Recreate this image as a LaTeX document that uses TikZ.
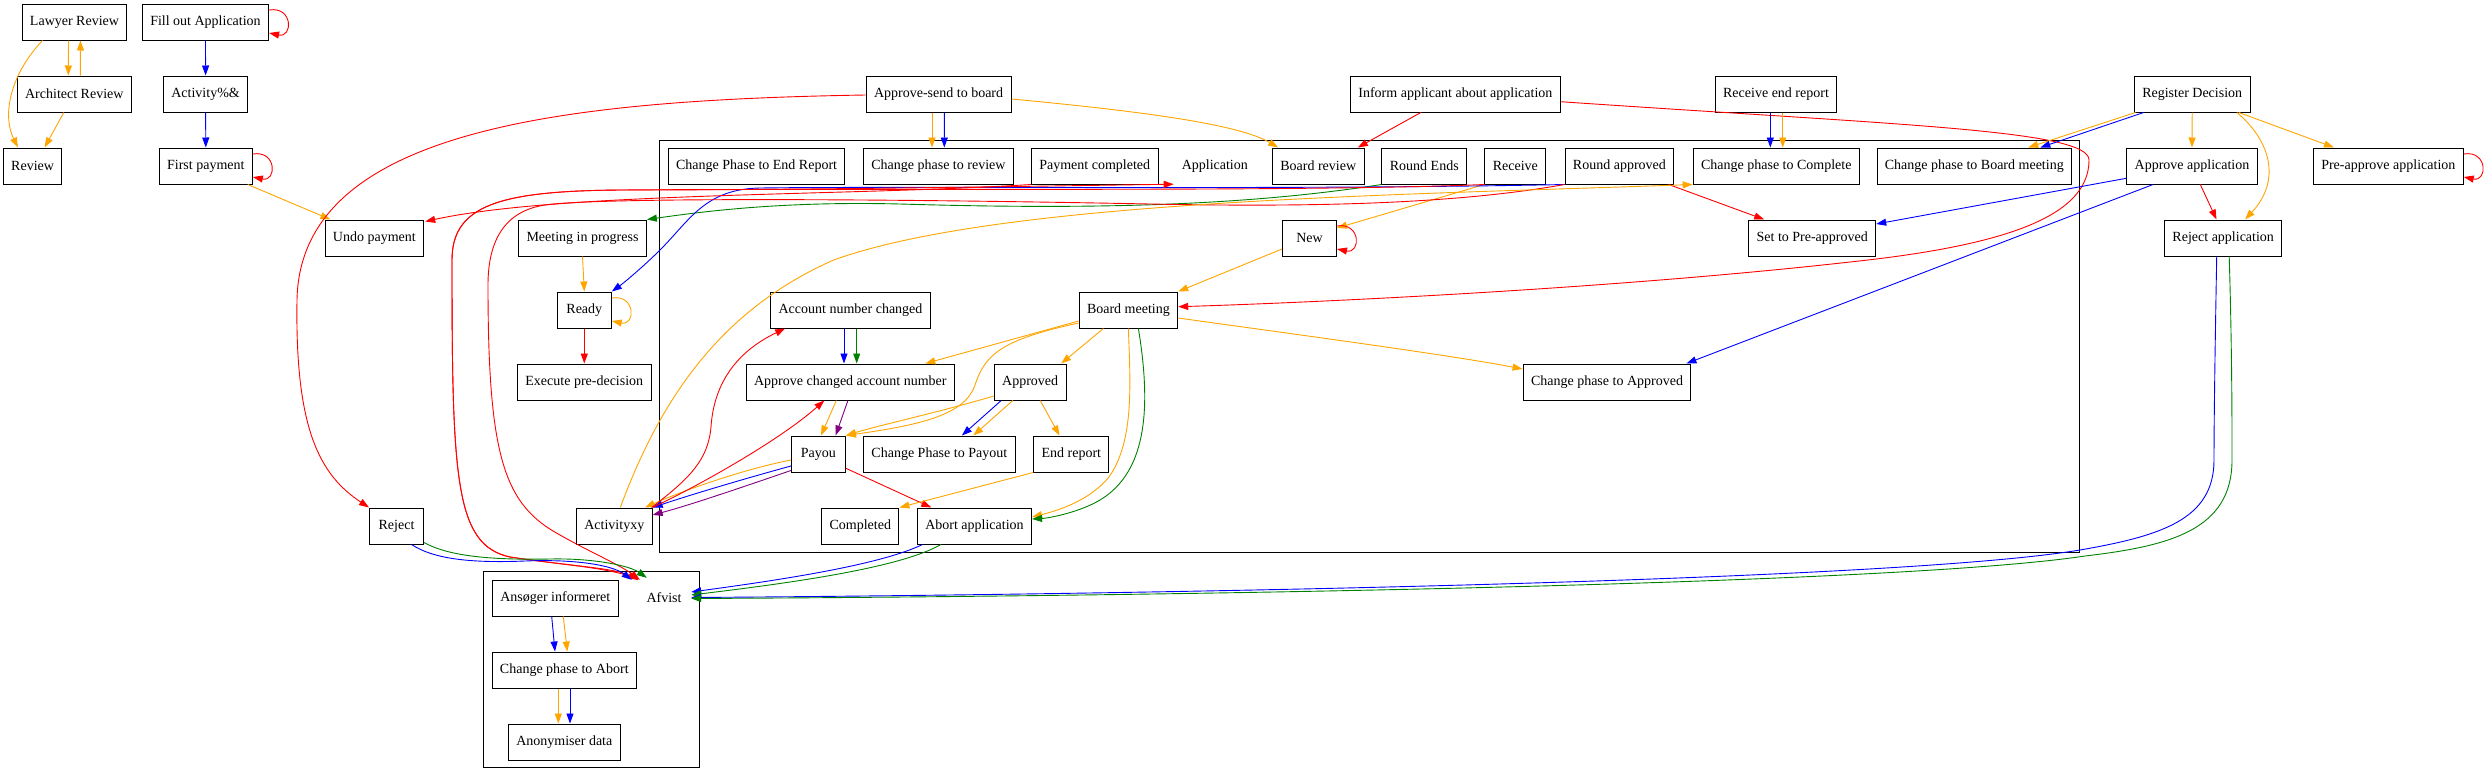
\documentclass[tikz,border=0pt]{standalone}
\usepackage{fontspec}
\setmainfont{Liberation Serif}
\usetikzlibrary{arrows.meta,calc}
\definecolor{gvorange}{HTML}{FFA500}
\definecolor{gvgreen}{HTML}{008000}
\definecolor{gvpurple}{HTML}{800080}
\begin{document}
\begin{tikzpicture}[x=1pt,y=-1pt,
  box/.style={draw=black, line width=1pt, minimum height=36pt, minimum width=54pt, inner xsep=7.9pt, inner ysep=0pt, font=\fontsize{14pt}{16pt}\selectfont},
  plainnode/.style={minimum height=36pt, minimum width=54pt, inner xsep=7.9pt, inner ysep=0pt, font=\fontsize{14pt}{16pt}\selectfont},
  clusterbox/.style={draw=black, line width=1pt, inner sep=0pt},
  conn/.style={line width=0.9pt, -{Triangle[length=10pt,width=7pt]}},
  eo/.style={conn, gvorange},
  eb/.style={conn, blue},
  er/.style={conn, red},
  eg/.style={conn, gvgreen},
  ep/.style={conn, gvpurple}]
\useasboundingbox (0,0) rectangle (2485,780);
% clusters
\node[clusterbox, minimum width=1420pt, minimum height=412pt] (clapp) at (1369.5,346) {};
\node[clusterbox, minimum width=216pt, minimum height=196pt] (clafvist) at (591.3,669.7) {};
% rank 0
\node[box] (lawyer) at (74.5,22) {Lawyer Review};
\node[box] (fill) at (205.5,22) {Fill out Application};
% rank 1
\node[box] (architect) at (74.3,94) {Architect Review};
\node[box] (activity) at (205.6,94) {Activity\%\&};
\node[box] (approvesend) at (938.6,94) {Approve-send to board};
\node[box] (inform) at (1455.4,94) {Inform applicant about application};
\node[box] (receiveend) at (1776,94) {Receive end report};
\node[box] (register) at (2192.2,94) {Register Decision};
% rank 2
\node[box] (review) at (32.6,166) {Review};
\node[box] (firstpay) at (205.8,166) {First payment};
\node[box] (cpend) at (756.6,166) {Change Phase to End Report};
\node[box] (cpreview) at (938.4,166) {Change phase to review};
\node[box] (paycomp) at (1094.7,166) {Payment completed};
\node[plainnode] (applabel) at (1214.8,166) {Application};
\node[box] (boardreview) at (1318.2,166) {Board review};
\node[box] (roundends) at (1424.3,166) {Round Ends};
\node[box] (receive) at (1515.3,166) {Receive};
\node[box] (roundappr) at (1619.4,166) {Round approved};
\node[box] (cpcomplete) at (1776.3,166) {Change phase to Complete};
\node[box] (cpboard) at (1974.3,166) {Change phase to Board meeting};
\node[box] (approveapp) at (2192,166) {Approve application};
\node[box] (preapprove) at (2388.3,166) {Pre-approve application};
% rank 3
\node[box] (undopay) at (374.4,238) {Undo payment};
\node[box] (meeting) at (582.5,238) {Meeting in progress};
\node[box] (new) at (1309.5,238) {New};
\node[box] (setpre) at (1812.2,238) {Set to Pre-approved};
\node[box] (rejectapp) at (2223.2,238) {Reject application};
% rank 4
\node[box] (ready) at (584.3,310) {Ready};
\node[box] (accchanged) at (850.5,310) {Account number changed};
\node[box] (boardmeeting) at (1128.4,310) {Board meeting};
% rank 5
\node[box] (execute) at (584.3,382) {Execute pre-decision};
\node[box] (approvechanged) at (850.3,382) {Approve changed account number};
\node[box] (approved) at (1030.2,382) {Approved};
\node[box] (cpapproved) at (1607,382) {Change phase to Approved};
% rank 6
\node[box] (payou) at (818.4,454) {Payou};
\node[box] (cppayout) at (939.3,454) {Change Phase to Payout};
\node[box] (endreport) at (1071.3,454) {End report};
% rank 7
\node[box] (reject) at (396.5,526) {Reject};
\node[box] (activityxy) at (614.3,526) {Activityxy};
\node[box] (completed) at (860.3,526) {Completed};
\node[box] (abort) at (974.5,526) {Abort application};
% rank 8-10
\node[box] (ansoger) at (555.3,598) {Ansøger informeret};
\node[plainnode] (afvist) at (664,598) {Afvist};
\node[box] (cpabort) at (564.3,670) {Change phase to Abort};
\node[box] (anonym) at (564.3,742) {Anonymiser data};

% ---- top left
\draw[eo] ($(lawyer.south)+(-6,0)$) -- ($(architect.north)+(-6,0)$);
\draw[eo] ($(architect.north)+(6,0)$) -- ($(lawyer.south)+(6,0)$);
\draw[eo] ($(lawyer.south)+(-32,0)$) .. controls (10,75) and (2,115) .. ($(review.north)+(-14.7,0)$);
\draw[eo] ($(architect.south)+(-10.5,0)$) -- ($(review.north)+(12,0)$);
\draw[eb] (fill.south) -- (activity.north);
\draw[eb] (activity.south) -- (firstpay.north);
\draw[er] ($(fill.east)+(0,-12)$) .. controls ($(fill.east)+(24,-16)$) and ($(fill.east)+(24,16)$) .. ($(fill.east)+(0,11)$);
\draw[er] ($(firstpay.east)+(0,-12)$) .. controls ($(firstpay.east)+(24,-16)$) and ($(firstpay.east)+(24,16)$) .. ($(firstpay.east)+(0,11)$);
\draw[eo] ($(firstpay.south)+(42,0)$) -- ($(undopay.north)+(-44,0)$);

% ---- approve-send to board
\draw[eo] ($(approvesend.south)+(-6.6,0)$) -- ($(cpreview.north)+(-6.4,0)$);
\draw[eb] ($(approvesend.south)+(5.7,0)$) -- ($(cpreview.north)+(5.9,0)$);
\draw[eo] ($(approvesend.east)+(0,5)$) .. controls (1150,112) and (1240,125) .. ($(boardreview.north)+(-40,0)$);
\draw[er] ($(approvesend.west)+(0,1)$) .. controls (560,100) and (300,130) .. (297,300) .. controls (295,430) and (320,475) .. (reject.north west);

% ---- inform applicant
\draw[er] ($(inform.south)+(-34.6,0)$) -- ($(boardreview.north)+(39.6,0)$);
\draw[er] ($(inform.east)+(0,7.7)$) .. controls (1900,125) and (2089,130) .. (2089,160) .. controls (2089,215) and (2010,245) .. (1850,262) .. controls (1600,290) and (1300,303) .. ($(boardmeeting.east)+(0,-3.3)$);

% ---- receive end report
\draw[eb] ($(receiveend.south)+(-5.7,0)$) -- ($(cpcomplete.north)+(-6,0)$);
\draw[eo] ($(receiveend.south)+(6.7,0)$) -- ($(cpcomplete.north)+(6.4,0)$);

% ---- register decision
\draw[eo] ($(register.south)+(-56.7,0)$) -- ($(cpboard.north)+(53.9,0)$);
\draw[eb] ($(register.south)+(-48.6,0)$) -- ($(cpboard.north)+(66,0)$);
\draw[eo] (register.south) -- (approveapp.north);
\draw[eo] ($(register.south)+(44.6,0)$) .. controls (2270,140) and (2282,180) .. ($(rejectapp.north)+(21.8,0)$);
\draw[eo] ($(register.south)+(46.6,0)$) -- ($(preapprove.north)+(-54.3,0)$);
\draw[er] ($(preapprove.east)+(0,-12)$) .. controls ($(preapprove.east)+(24,-16)$) and ($(preapprove.east)+(24,16)$) .. ($(preapprove.east)+(0,11)$);

% ---- approve application
\draw[er] ($(approveapp.south)+(8.3,0)$) -- ($(rejectapp.north)+(-6.7,0)$);
\draw[eb] ($(approveapp.west)+(0,12.3)$) -- ($(setpre.east)+(0,-14)$);
\draw[eb] ($(approveapp.south)+(-39,0)$) -- ($(cpapproved.north east)+(-5,0)$);

% ---- round approved / receive / round ends
\draw[er] ($(roundappr.south)+(49.3,0)$) -- ($(setpre.north)+(-48,0)$);
\draw[eo] (receive.south west) -- ($(new.east)+(0,-10)$);
\draw[er] ($(new.east)+(0,-12)$) .. controls ($(new.east)+(24,-16)$) and ($(new.east)+(24,16)$) .. ($(new.east)+(0,11)$);
\draw[eo] ($(new.west)+(0,11)$) -- (boardmeeting.north east);
\draw[eg] (roundends.south west) .. controls (1250,205) and (1100,210) .. (900,204) .. controls (780,201) and (700,212) .. (meeting.north east);
\draw[eb] (roundappr.south west) .. controls (1300,190) and (900,186) .. (760,188) .. controls (705,189) and (690,220) .. (660,250) .. controls (645,265) and (625,282) .. (ready.north east);
\draw[er] (receive.south west) .. controls (1300,192) and (900,188) .. (620,190) .. controls (500,191) and (452,205) .. (452,260) .. controls (452,480) and (455,545) .. (510,557) .. controls (570,566) and (615,568) .. ($(afvist.north west)+(1,0)$);
\draw[er] (roundappr.south west) .. controls (1450,205) and (1300,207) .. (1150,204) .. controls (900,199) and (600,197) .. (545,205) .. controls (505,211) and (488,240) .. (488,285) .. controls (488,460) and (505,505) .. (560,535) .. controls (590,552) and (620,565) .. ($(afvist.north west)+(3,0)$);
\draw[er] (paycomp.south west) .. controls (850,196) and (560,192) .. ($(undopay.north east)+(1,2)$);
\draw[er] ($(afvist.north west)+(1,0)$) .. controls (615,568) and (570,566) .. (510,557) .. controls (455,545) and (452,480) .. (452,260) .. controls (452,205) and (500,191) .. (620,190) .. controls (800,190) and (1050,186) .. (applabel.south west);

% ---- board meeting
\draw[eo] ($(boardmeeting.west)+(0,11)$) -- ($(approvechanged.north)+(75,0)$);
\draw[eo] ($(boardmeeting.south)+(-25,0)$) -- ($(approved.north)+(31,0)$);
\draw[eo] ($(boardmeeting.west)+(0,13)$) .. controls (1000,340) and (985,355) .. (975,385) .. controls (965,415) and (920,425) .. (payou.north east);
\draw[eo] (boardmeeting.south) .. controls (1130,380) and (1135,440) .. (1109,477) .. controls (1090,500) and (1060,510) .. ($(abort.east)+(0,-9)$);
\draw[eg] ($(boardmeeting.south)+(10,0)$) .. controls (1150,400) and (1150,470) .. (1100,500) .. controls (1080,512) and (1050,518) .. ($(abort.east)+(0,-7)$);
\draw[eo] ($(boardmeeting.east)+(0,8)$) .. controls (1300,335) and (1450,355) .. ($(cpapproved.west)+(0,-13)$);

% ---- approved
\draw[eo] ($(approved.west)+(0,14)$) .. controls (940,412) and (880,425) .. (payou.north east);
\draw[eb] ($(approved.south)+(-29,0)$) -- ($(cppayout.north)+(22.6,0)$);
\draw[eo] ($(approved.south)+(-17.4,0)$) -- ($(cppayout.north)+(34,0)$);
\draw[eo] ($(approved.south)+(10,0)$) -- ($(endreport.north)+(-11.8,0)$);

% ---- account number
\draw[eb] ($(accchanged.south)+(-6.5,0)$) -- ($(approvechanged.north)+(-6.3,0)$);
\draw[eg] ($(accchanged.south)+(6.2,0)$) -- ($(approvechanged.north)+(6.4,0)$);
\draw[eo] ($(approvechanged.south)+(-14,0)$) -- ($(payou.north)+(2.6,0)$);
\draw[ep] ($(approvechanged.south)+(-2.4,0)$) -- ($(payou.north)+(17.2,0)$);

% ---- payou / end report
\draw[er] ($(payou.east)+(0,14.3)$) -- ($(abort.north)+(-43.2,0)$);
\draw[eo] (endreport.south west) -- (completed.north east);
\draw[eo] ($(payou.west)+(0,6)$) .. controls (740,470) and (680,492) .. ($(activityxy.north)+(30.7,0)$);
\draw[eb] ($(payou.west)+(0,12)$) .. controls (740,480) and (690,495) .. (activityxy.north east);
\draw[ep] ($(payou.south west)+(0,-2)$) .. controls (740,488) and (690,505) .. ($(activityxy.east)+(0,-11)$);

% ---- activityxy
\draw[er] (activityxy.north east) .. controls (700,485) and (780,440) .. ($(approvechanged.south)+(-26,0)$);
\draw[er] ($(activityxy.north east)+(-1,0)$) .. controls (690,478) and (708,460) .. (711,427) .. controls (714,380) and (740,350) .. ($(accchanged.south west)+(15,0)$);
\draw[eo] ($(activityxy.north)+(6,0)$) .. controls (660,400) and (720,310) .. (833.7,260) .. controls (1000,200) and (1400,195) .. (cpcomplete.south west);

% ---- meeting / ready
\draw[eo] (meeting.south) -- (ready.north);
\draw[eo] ($(ready.east)+(0,-12)$) .. controls ($(ready.east)+(24,-16)$) and ($(ready.east)+(24,16)$) .. ($(ready.east)+(0,11)$);
\draw[er] (ready.south) -- (execute.north);

% ---- to Afvist
\draw[eb] ($(reject.south)+(15,0)$) .. controls (435,560) and (475,563) .. (525,561) .. controls (575,559) and (612,565) .. ($(afvist.north west)+(-5,0)$);
\draw[eg] ($(reject.south east)+(0,-2)$) .. controls (450,557) and (495,560) .. (550,559) .. controls (595,558) and (630,566) .. ($(afvist.north west)+(10,-2)$);
\draw[eb] ($(abort.south)+(-52,0)$) .. controls (880,565) and (780,580) .. ($(afvist.east)+(0,-6)$);
\draw[eg] ($(abort.south)+(-33.6,0)$) .. controls (900,568) and (790,583) .. ($(afvist.east)+(0,-3)$);
\draw[eb] ($(rejectapp.south)+(-6.5,0)$) .. controls (2215,350) and (2214,420) .. (2214,460) .. controls (2214,520) and (2160,536) .. (2080,550) .. controls (1900,580) and (1200,594) .. ($(afvist.east)+(0,-0.5)$);
\draw[eg] ($(rejectapp.south)+(6,0)$) .. controls (2232,350) and (2232,420) .. (2232,460) .. controls (2232,530) and (2170,546) .. (2085,556) .. controls (1900,584) and (1200,596) .. ($(afvist.east)+(0,0.5)$);

% ---- Afvist cluster internals
\draw[eb] ($(ansoger.south)+(-3.6,0)$) -- ($(cpabort.north)+(-9.3,0)$);
\draw[eo] ($(ansoger.south)+(8,0)$) -- ($(cpabort.north)+(3,0)$);
\draw[eo] ($(cpabort.south)+(-6,0)$) -- ($(anonym.north)+(-6,0)$);
\draw[eb] ($(cpabort.south)+(5.7,0)$) -- ($(anonym.north)+(5.7,0)$);
\end{tikzpicture}
\end{document}
